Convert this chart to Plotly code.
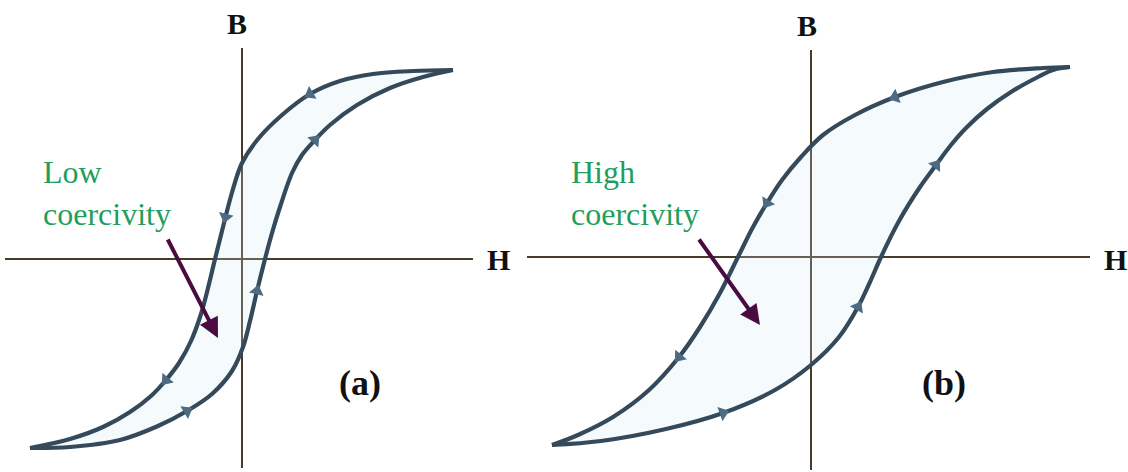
import numpy as np
import plotly.graph_objects as go

# ---- Loop (a): low-coercivity material (H, B in arbitrary units) ----
SOFT_DESC_H = [2.11, 1.71, 1.31, 0.98, 0.68, 0.40, 0.16, 0.00, -0.09, -0.165, -0.22,
               -0.27, -0.33, -0.41, -0.51, -0.63, -0.76, -0.91, -1.12, -1.39, -1.72, -2.12]
SOFT_DESC_B = [1.89, 1.88, 1.85, 1.78, 1.65, 1.44, 1.20, 0.96, 0.70, 0.42, 0.20,
               0.00, -0.25, -0.55, -0.82, -1.04, -1.21, -1.37, -1.53, -1.68, -1.80, -1.89]
SOFT_ASC_H = [-2.12, -1.72, -1.22, -0.84, -0.55, -0.30, -0.10, 0.01, 0.08, 0.15,
              0.23, 0.30, 0.38, 0.50, 0.60, 0.73, 0.88, 1.15, 1.48, 1.81, 2.11]
SOFT_ASC_B = [-1.89, -1.88, -1.81, -1.67, -1.52, -1.35, -1.12, -0.88, -0.62, -0.32,
              0.00, 0.26, 0.52, 0.86, 1.04, 1.19, 1.34, 1.54, 1.71, 1.82, 1.89]
SOFT_DESC_ARROWS = [4, 9, 16]
SOFT_ASC_ARROWS = [4, 9, 15]

# ---- Loop (b): high-coercivity material ----
HARD_DESC_H = [2.59, 2.32, 1.82, 1.32, 0.84, 0.44, 0.12, -0.10, -0.29, -0.44, -0.58,
               -0.73, -0.91, -1.11, -1.32, -1.62, -1.98, -2.33, -2.59]
HARD_DESC_B = [1.90, 1.89, 1.85, 1.75, 1.60, 1.42, 1.22, 1.00, 0.77, 0.54, 0.30,
               0.00, -0.36, -0.70, -1.00, -1.33, -1.60, -1.78, -1.88]
HARD_ASC_H = [-2.59, -2.10, -1.45, -0.88, -0.36, 0.00, 0.28, 0.47, 0.59, 0.70,
              0.88, 1.09, 1.25, 1.40, 1.56, 1.76, 2.00, 2.27, 2.42, 2.59]
HARD_ASC_B = [-1.88, -1.84, -1.72, -1.56, -1.33, -1.08, -0.80, -0.50, -0.25, 0.00,
              0.36, 0.70, 0.92, 1.12, 1.30, 1.48, 1.65, 1.80, 1.87, 1.90]
HARD_DESC_ARROWS = [4, 9, 14]
HARD_ASC_ARROWS = [3, 7, 12]

# pointer arrows (tail H, tail B, head H, head B)
SOFT_POINTER = [-0.75, 0.21, -0.24, -0.79]
HARD_POINTER = [-1.13, 0.19, -0.51, -0.68]

LOOP_COLOR = "#34495a"
ARROW_COLOR = "#4d6b82"
AXIS_COLOR = "#483b27"
FILL_COLOR = "rgba(210,232,245,0.22)"
GREEN = "#1f9e5c"
PURPLE = "#4a0b41"
SERIF = "Liberation Serif, Times New Roman, serif"

W, H = 1128, 472
fig = go.Figure()


def add_loop(desc_h, desc_b, asc_h, asc_b, desc_arr, asc_arr, xa, ya):
    # shaded interior of the loop
    fig.add_trace(go.Scatter(
        x=desc_h + asc_h[1:-1], y=desc_b + asc_b[1:-1], mode="lines",
        line=dict(width=0, shape="spline", smoothing=1.0), fill="toself",
        fillcolor=FILL_COLOR, hoverinfo="skip", xaxis=xa, yaxis=ya))
    for hs, bs in ((desc_h, desc_b), (asc_h, asc_b)):
        fig.add_trace(go.Scatter(
            x=hs, y=bs, mode="lines",
            line=dict(color=LOOP_COLOR, width=4.2, shape="spline", smoothing=1.0),
            hoverinfo="skip", xaxis=xa, yaxis=ya))
    # direction arrowheads along each branch
    for hs, bs, idx in ((desc_h, desc_b, desc_arr), (asc_h, asc_b, asc_arr)):
        px, py, ang = [], [], []
        for i in idx:
            dx = hs[i + 1] - hs[i - 1]
            dy = bs[i + 1] - bs[i - 1]
            px.append(hs[i])
            py.append(bs[i])
            ang.append(float(np.degrees(np.arctan2(dx, dy))))
        fig.add_trace(go.Scatter(
            x=px, y=py, mode="markers",
            marker=dict(symbol="triangle-up", size=13, angle=ang,
                        color=ARROW_COLOR, line=dict(width=0)),
            hoverinfo="skip", xaxis=xa, yaxis=ya))


add_loop(SOFT_DESC_H, SOFT_DESC_B, SOFT_ASC_H, SOFT_ASC_B,
         SOFT_DESC_ARROWS, SOFT_ASC_ARROWS, "x", "y")
add_loop(HARD_DESC_H, HARD_DESC_B, HARD_ASC_H, HARD_ASC_B,
         HARD_DESC_ARROWS, HARD_ASC_ARROWS, "x2", "y2")

axis_common = dict(showgrid=False, showticklabels=False, ticks="", showline=False,
                   zeroline=True, zerolinecolor=AXIS_COLOR, zerolinewidth=2,
                   fixedrange=True)

fig.update_layout(
    width=W, height=H, autosize=False,
    margin=dict(l=0, r=0, t=0, b=0),
    paper_bgcolor="white", plot_bgcolor="rgba(0,0,0,0)",
    showlegend=False,
    xaxis=dict(domain=[5 / W, 473 / W], range=[-2.37, 2.31], **axis_common),
    yaxis=dict(domain=[4 / H, 424 / H], range=[-2.09, 2.11], **axis_common),
    xaxis2=dict(domain=[527 / W, 1090 / W], range=[-2.84, 2.79], anchor="y2", **axis_common),
    yaxis2=dict(domain=[2 / H, 422 / H], range=[-2.13, 2.07], anchor="x2", **axis_common),
)


def px_note(text, x, y, size, color, bold=False, xanchor="center"):
    fig.add_annotation(
        text=f"<b>{text}</b>" if bold else text,
        x=x / W, y=1 - y / H, xref="paper", yref="paper",
        xanchor=xanchor, yanchor="middle", showarrow=False, align="left",
        font=dict(family=SERIF, size=size, color=color))


# axis letters and panel labels
px_note("B", 237, 24, 30, "#111111", bold=True)
px_note("H", 498, 259, 30, "#111111", bold=True)
px_note("B", 807, 26, 30, "#111111", bold=True)
px_note("H", 1115, 259, 30, "#111111", bold=True)
px_note("(a)", 360, 383, 36, "#111111", bold=True)
px_note("(b)", 944, 383, 36, "#111111", bold=True)

# callout text
px_note("Low<br>coercivity", 41, 193, 32, GREEN, xanchor="left")
px_note("High<br>coercivity", 569, 193, 32, GREEN, xanchor="left")

# callout pointers
for ptr, xr, yr in ((SOFT_POINTER, "x", "y"), (HARD_POINTER, "x2", "y2")):
    fig.add_annotation(
        x=ptr[2], y=ptr[3], ax=ptr[0], ay=ptr[1],
        xref=xr, yref=yr, axref=xr, ayref=yr,
        text="", showarrow=True, arrowhead=2, arrowsize=1, arrowwidth=4,
        arrowcolor=PURPLE, standoff=0, startstandoff=0)

fig.write_html("out.html")
